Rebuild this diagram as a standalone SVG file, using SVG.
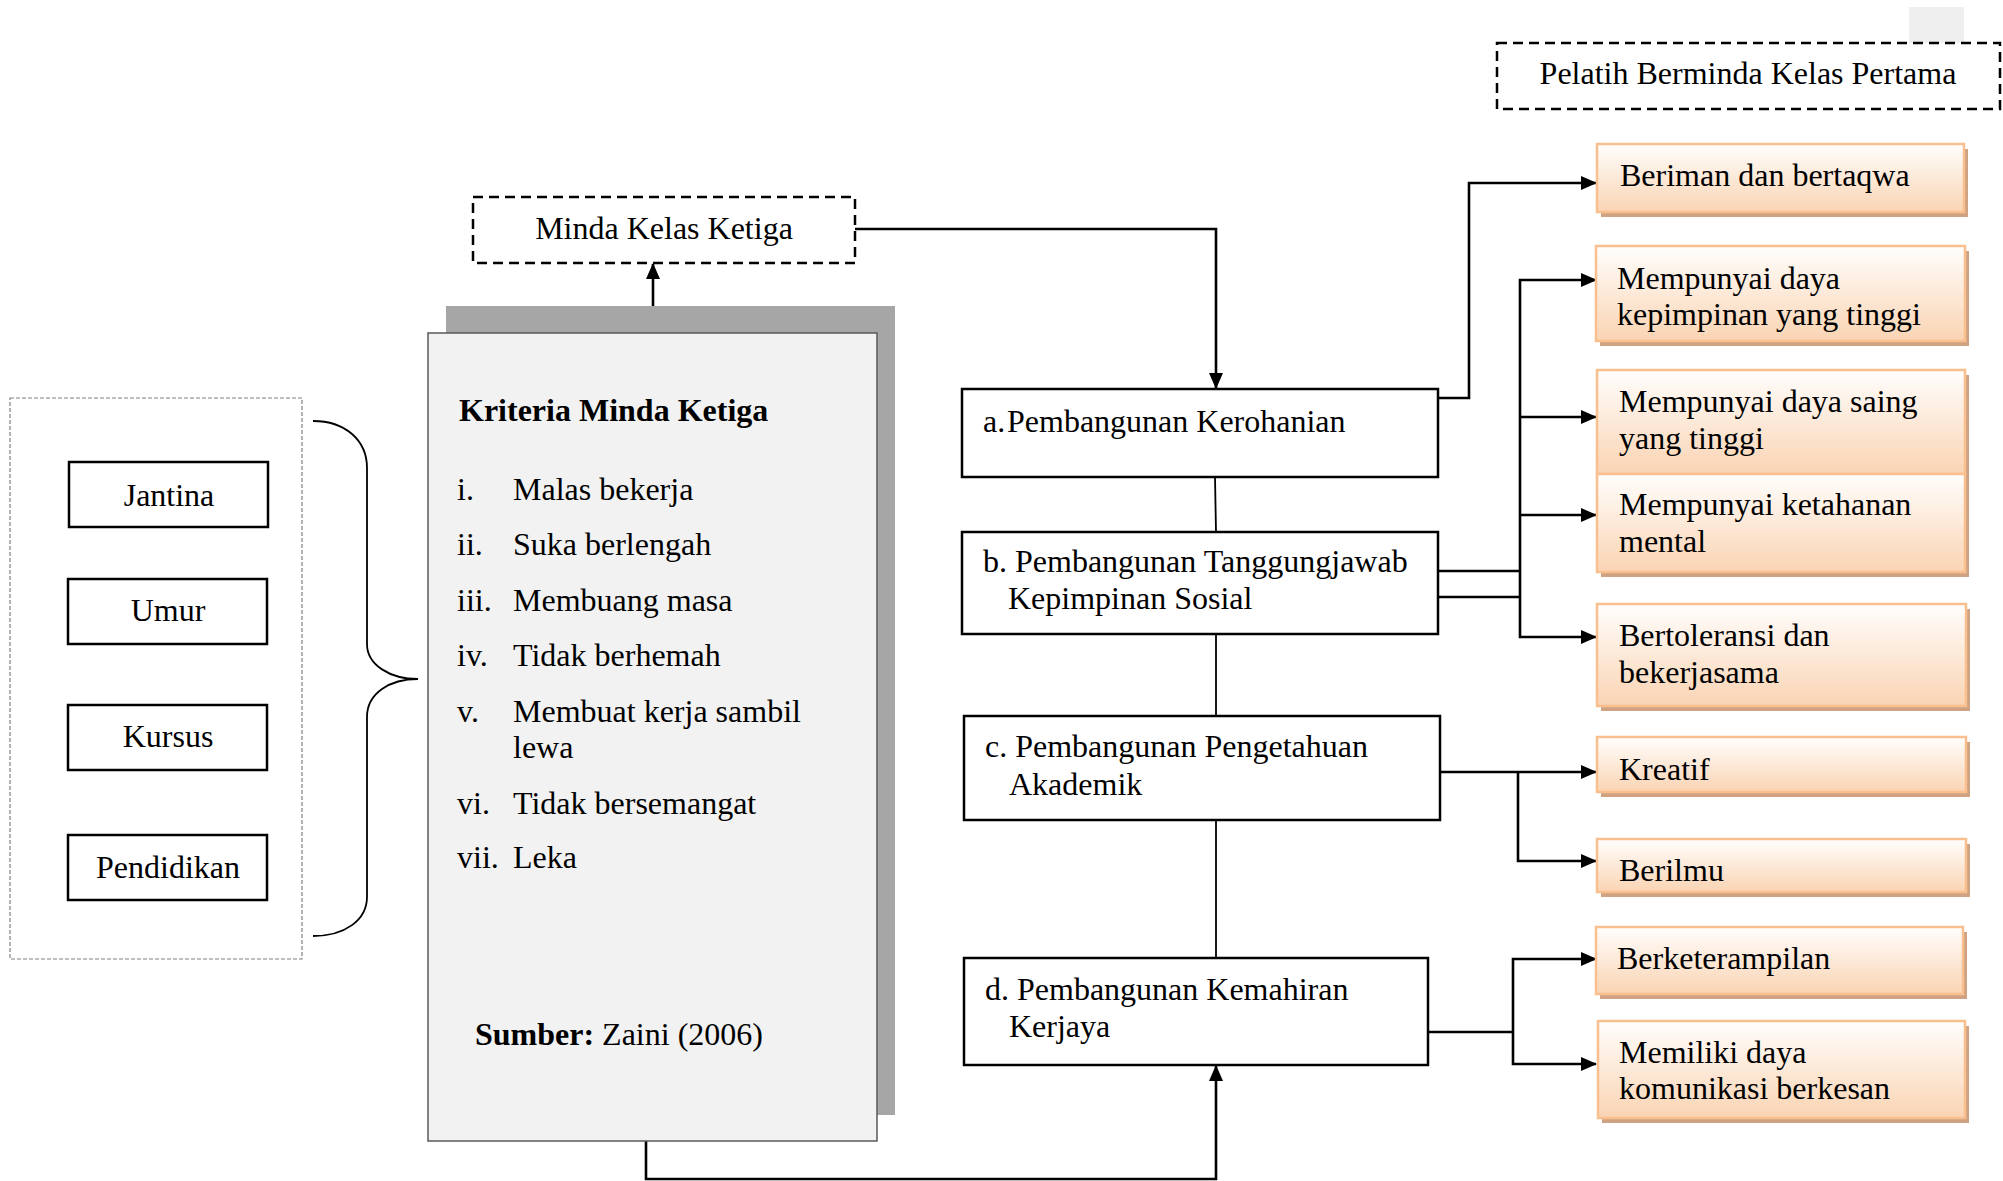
<svg xmlns="http://www.w3.org/2000/svg" width="2003" height="1181" viewBox="0 0 2003 1181">
<defs>
<linearGradient id="og" x1="0" y1="0" x2="0" y2="1">
<stop offset="0" stop-color="#fffefd"/>
<stop offset="1" stop-color="#fad4b3"/>
</linearGradient>
<marker id="ah" viewBox="0 0 16 14" markerWidth="16" markerHeight="14" refX="15" refY="7" orient="auto" markerUnits="userSpaceOnUse">
<path d="M0,0 L16,7 L0,14 z" fill="#000"/>
</marker>
</defs>
<style>
text{font-family:"Liberation Serif","Times New Roman",serif;font-size:32px;fill:#000;transform:translateY(1.5px)}
.b{font-weight:bold}
.mid{text-anchor:middle}
.box{fill:#fff;stroke:#000;stroke-width:2.5}
.dash{fill:#fff;stroke:#000;stroke-width:2.5;stroke-dasharray:10 6}
.osh{fill:#cfa381}
.ob{fill:url(#og);stroke:#f9bf8f;stroke-width:2.5}
.ln{fill:none;stroke:#000;stroke-width:2.6}
.thin{fill:none;stroke:#000;stroke-width:1.8}
.arr{marker-end:url(#ah)}
</style>
<rect width="2003" height="1181" fill="#fff"/>
<rect x="1909" y="7" width="55" height="36" fill="#efefef"/>

<g id="connectors">
<path class="ln arr" d="M653,333 V264"/>
<path class="ln arr" d="M855,229 H1216 V388"/>
<path class="thin" d="M1215,477 L1216,532"/>
<path class="thin" d="M1216,634 V716"/>
<path class="thin" d="M1216,820 V958"/>
<path class="ln arr" d="M646,1141 V1179 H1216 V1066"/>
<path class="ln arr" d="M1438,398 H1469 V183 H1596"/>
<path class="ln" d="M1438,571 H1520 M1438,597 H1520"/>
<path class="ln arr" d="M1520,571 V280 H1596"/>
<path class="ln arr" d="M1520,417 H1596"/>
<path class="ln arr" d="M1520,515 H1596"/>
<path class="ln arr" d="M1520,571 V637 H1596"/>
<path class="ln arr" d="M1438,772 H1596"/>
<path class="ln arr" d="M1518,772 V861 H1596"/>
<path class="ln" d="M1428,1032 H1513"/>
<path class="ln arr" d="M1513,1032 V959 H1596"/>
<path class="ln arr" d="M1513,1032 V1064 H1596"/>
<path class="thin" d="M313,421 C345,421 367,440 367,468 V644 C367,665 390,679 418,679 C390,679 367,693 367,717 V897 C367,920 345,936 313,936"/>
</g>

<g id="pelatih">
<rect class="dash" x="1497" y="43" width="503" height="66"/>
<text class="mid" x="1748" y="82">Pelatih Berminda Kelas Pertama</text>
</g>

<g id="minda">
<rect class="dash" x="473" y="197" width="382" height="66"/>
<text class="mid" x="664" y="237">Minda Kelas Ketiga</text>
</g>

<g id="faktor">
<rect x="10" y="398" width="292" height="561" fill="none" stroke="#808080" stroke-width="1.2" stroke-dasharray="4 2"/>
<rect class="box" x="69" y="462" width="199" height="65"/>
<text class="mid" x="169" y="504">Jantina</text>
<rect class="box" x="68" y="579" width="199" height="65"/>
<text class="mid" x="168" y="619">Umur</text>
<rect class="box" x="68" y="705" width="199" height="65"/>
<text class="mid" x="168" y="745">Kursus</text>
<rect class="box" x="68" y="835" width="199" height="65"/>
<text class="mid" x="168" y="876">Pendidikan</text>
</g>

<g id="kriteria">
<rect x="446" y="306" width="449" height="809" fill="#a6a6a6"/>
<rect x="428" y="333" width="449" height="808" fill="#f2f2f2" stroke="#595959" stroke-width="1.5"/>
<text class="b" x="459" y="419">Kriteria Minda Ketiga</text>
<text x="457" y="498">i.</text><text x="513" y="498">Malas bekerja</text>
<text x="457" y="553">ii.</text><text x="513" y="553">Suka berlengah</text>
<text x="457" y="609">iii.</text><text x="513" y="609">Membuang masa</text>
<text x="457" y="664">iv.</text><text x="513" y="664">Tidak berhemah</text>
<text x="457" y="720">v.</text><text x="513" y="720">Membuat kerja sambil</text>
<text x="513" y="756">lewa</text>
<text x="457" y="812">vi.</text><text x="513" y="812">Tidak bersemangat</text>
<text x="457" y="866">vii.</text><text x="513" y="866">Leka</text>
<text x="475" y="1043"><tspan class="b">Sumber:</tspan> Zaini (2006)</text>
</g>

<g id="a">
<rect class="box" x="962" y="389" width="476" height="88"/>
<text x="983" y="430">a.<tspan x="1007">Pembangunan Kerohanian</tspan></text>
</g>
<g id="b">
<rect class="box" x="962" y="532" width="476" height="102"/>
<text x="983" y="570">b. Pembangunan Tanggungjawab</text>
<text x="1008" y="607">Kepimpinan Sosial</text>
</g>
<g id="c">
<rect class="box" x="964" y="716" width="476" height="104"/>
<text x="985" y="755">c. Pembangunan Pengetahuan</text>
<text x="1009" y="793">Akademik</text>
</g>
<g id="d">
<rect class="box" x="964" y="958" width="464" height="107"/>
<text x="985" y="998">d. Pembangunan Kemahiran</text>
<text x="1009" y="1035">Kerjaya</text>
</g>

<g id="o1">
<rect class="osh" x="1601" y="149" width="367" height="68"/>
<rect class="ob" x="1597" y="144" width="367" height="68"/>
<text x="1620" y="184">Beriman dan bertaqwa</text>
</g>
<g id="o2">
<rect class="osh" x="1600" y="251" width="369" height="95"/>
<rect class="ob" x="1596" y="246" width="369" height="95"/>
<text x="1617" y="287">Mempunyai daya</text>
<text x="1617" y="323">kepimpinan yang tinggi</text>
</g>
<g id="o3">
<rect class="osh" x="1601" y="375" width="368" height="104"/>
<rect class="osh" x="1601" y="479" width="368" height="98"/>
<rect class="ob" x="1597" y="370" width="368" height="104"/>
<text x="1619" y="410">Mempunyai daya saing</text>
<text x="1619" y="447">yang tinggi</text>
</g>
<g id="o4">
<rect class="ob" x="1597" y="474" width="368" height="98"/>
<text x="1619" y="513">Mempunyai ketahanan</text>
<text x="1619" y="550">mental</text>
</g>
<g id="o5">
<rect class="osh" x="1601" y="609" width="369" height="102"/>
<rect class="ob" x="1597" y="604" width="369" height="102"/>
<text x="1619" y="644">Bertoleransi dan</text>
<text x="1619" y="681">bekerjasama</text>
</g>
<g id="o6">
<rect class="osh" x="1601" y="742" width="369" height="55"/>
<rect class="ob" x="1597" y="737" width="369" height="55"/>
<text x="1619" y="778">Kreatif</text>
</g>
<g id="o7">
<rect class="osh" x="1601" y="844" width="369" height="53"/>
<rect class="ob" x="1597" y="839" width="369" height="53"/>
<text x="1619" y="879">Berilmu</text>
</g>
<g id="o8">
<rect class="osh" x="1600" y="932" width="367" height="67"/>
<rect class="ob" x="1596" y="927" width="367" height="67"/>
<text x="1617" y="967">Berketerampilan</text>
</g>
<g id="o9">
<rect class="osh" x="1602" y="1026" width="367" height="97"/>
<rect class="ob" x="1598" y="1021" width="367" height="97"/>
<text x="1619" y="1061">Memiliki daya</text>
<text x="1619" y="1097">komunikasi berkesan</text>
</g>
</svg>
